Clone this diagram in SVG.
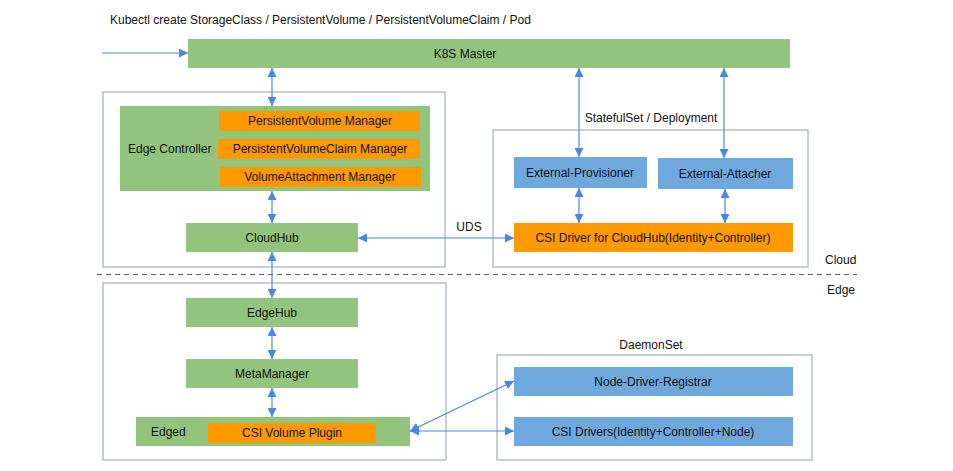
<svg xmlns="http://www.w3.org/2000/svg" width="953" height="471" viewBox="0 0 953 471">
<style>
text{font-family:"Liberation Sans",Arial,sans-serif;font-size:12px;fill:#111;}
.c{text-anchor:middle;dominant-baseline:central;}
.g{fill:#93c47d;}
.o{fill:#ff9900;}
.b{fill:#6fa8dc;}
.frame{fill:none;stroke:#a9b5c0;stroke-width:1.3;}
.conn line{stroke:#4a86e8;stroke-width:1.2;fill:none;}
</style>
<defs>
<marker id="ah" viewBox="0 0 10 10" refX="10" refY="5" markerWidth="9" markerHeight="9" markerUnits="userSpaceOnUse" orient="auto-start-reverse">
<path d="M0,0L10,5L0,10z" fill="#4a86e8"/>
</marker>
</defs>
<rect width="953" height="471" fill="#fff"/>
<text x="110" y="24">Kubectl create StorageClass / PersistentVolume / PersistentVolumeClaim / Pod</text>
<g id="cloud-frame"><rect class="frame" x="103" y="92" width="342" height="175"/></g>
<g id="stateful-frame"><rect class="frame" x="493" y="130" width="315" height="137"/></g>
<g id="edge-frame"><rect class="frame" x="103" y="283" width="343" height="177"/></g>
<g id="daemon-frame"><rect class="frame" x="497" y="355" width="315" height="105"/></g>
<g id="divider"><line x1="97" y1="274.5" x2="857" y2="274.5" stroke="#666" stroke-width="1" stroke-dasharray="5,4"/></g>
<g id="k8s-master"><rect class="g" x="188" y="39" width="602" height="29"/><text class="c" x="465" y="53.5">K8S Master</text></g>
<g id="edge-controller"><rect class="g" x="120" y="106" width="310" height="85"/><text x="128" y="153">Edge Controller</text></g>
<g id="pv-manager"><rect class="o" x="219" y="111" width="201" height="20"/><text class="c" x="320" y="121">PersistentVolume Manager</text></g>
<g id="pvc-manager"><rect class="o" x="218" y="139" width="202" height="20"/><text class="c" x="320" y="149">PersistentVolumeClaim Manager</text></g>
<g id="va-manager"><rect class="o" x="220" y="167" width="201" height="20"/><text class="c" x="320" y="177">VolumeAttachment Manager</text></g>
<g id="cloudhub"><rect class="g" x="186" y="223" width="172" height="29"/><text class="c" x="272" y="237.5">CloudHub</text></g>
<g id="external-provisioner"><rect class="b" x="514" y="157" width="133" height="31"/><text class="c" x="580" y="172.5">External-Provisioner</text></g>
<g id="external-attacher"><rect class="b" x="658" y="158" width="135" height="31"/><text class="c" x="725" y="173.5">External-Attacher</text></g>
<g id="csi-driver-cloudhub"><rect class="o" x="514" y="223" width="279" height="29"/><text class="c" x="653" y="237.5">CSI Driver for CloudHub(Identity+Controller)</text></g>
<g id="edgehub"><rect class="g" x="186" y="298" width="172" height="29"/><text class="c" x="272" y="312.5">EdgeHub</text></g>
<g id="metamanager"><rect class="g" x="186" y="359" width="172" height="29"/><text class="c" x="272" y="373.5">MetaManager</text></g>
<g id="edged"><rect class="g" x="136" y="417" width="274" height="29"/><text x="151" y="436">Edged</text></g>
<g id="csi-volume-plugin"><rect class="o" x="208" y="423" width="168" height="20"/><text class="c" x="292" y="433">CSI Volume Plugin</text></g>
<g id="node-driver-registrar"><rect class="b" x="514" y="367" width="279" height="29"/><text class="c" x="653" y="381.5">Node-Driver-Registrar</text></g>
<g id="csi-drivers"><rect class="b" x="514" y="417" width="279" height="29"/><text class="c" x="653" y="431.5">CSI Drivers(Identity+Controller+Node)</text></g>
<g id="labels">
<text class="c" x="651" y="118">StatefulSet / Deployment</text>
<text class="c" x="469" y="227">UDS</text>
<text class="c" x="651" y="345">DaemonSet</text>
<text x="825" y="264">Cloud</text>
<text x="827" y="294">Edge</text>
</g>
<g id="connectors" class="conn">
<line x1="102" y1="53" x2="188" y2="53" marker-end="url(#ah)"/>
<line x1="272" y1="68" x2="272" y2="106" marker-start="url(#ah)" marker-end="url(#ah)"/>
<line x1="272" y1="191" x2="272" y2="223" marker-start="url(#ah)" marker-end="url(#ah)"/>
<line x1="272" y1="252" x2="272" y2="298" marker-start="url(#ah)" marker-end="url(#ah)"/>
<line x1="272" y1="327" x2="272" y2="359" marker-start="url(#ah)" marker-end="url(#ah)"/>
<line x1="272" y1="388" x2="272" y2="417" marker-start="url(#ah)" marker-end="url(#ah)"/>
<line x1="358" y1="238" x2="514" y2="238" marker-start="url(#ah)" marker-end="url(#ah)"/>
<line x1="579" y1="68" x2="579" y2="157" marker-start="url(#ah)" marker-end="url(#ah)"/>
<line x1="724" y1="68" x2="724" y2="158" marker-start="url(#ah)" marker-end="url(#ah)"/>
<line x1="579" y1="188" x2="579" y2="223" marker-start="url(#ah)" marker-end="url(#ah)"/>
<line x1="725" y1="189" x2="725" y2="223" marker-start="url(#ah)" marker-end="url(#ah)"/>
<line x1="410" y1="431" x2="514" y2="381" marker-start="url(#ah)" marker-end="url(#ah)"/>
<line x1="410" y1="431" x2="514" y2="431" marker-start="url(#ah)" marker-end="url(#ah)"/>
</g>
</svg>
